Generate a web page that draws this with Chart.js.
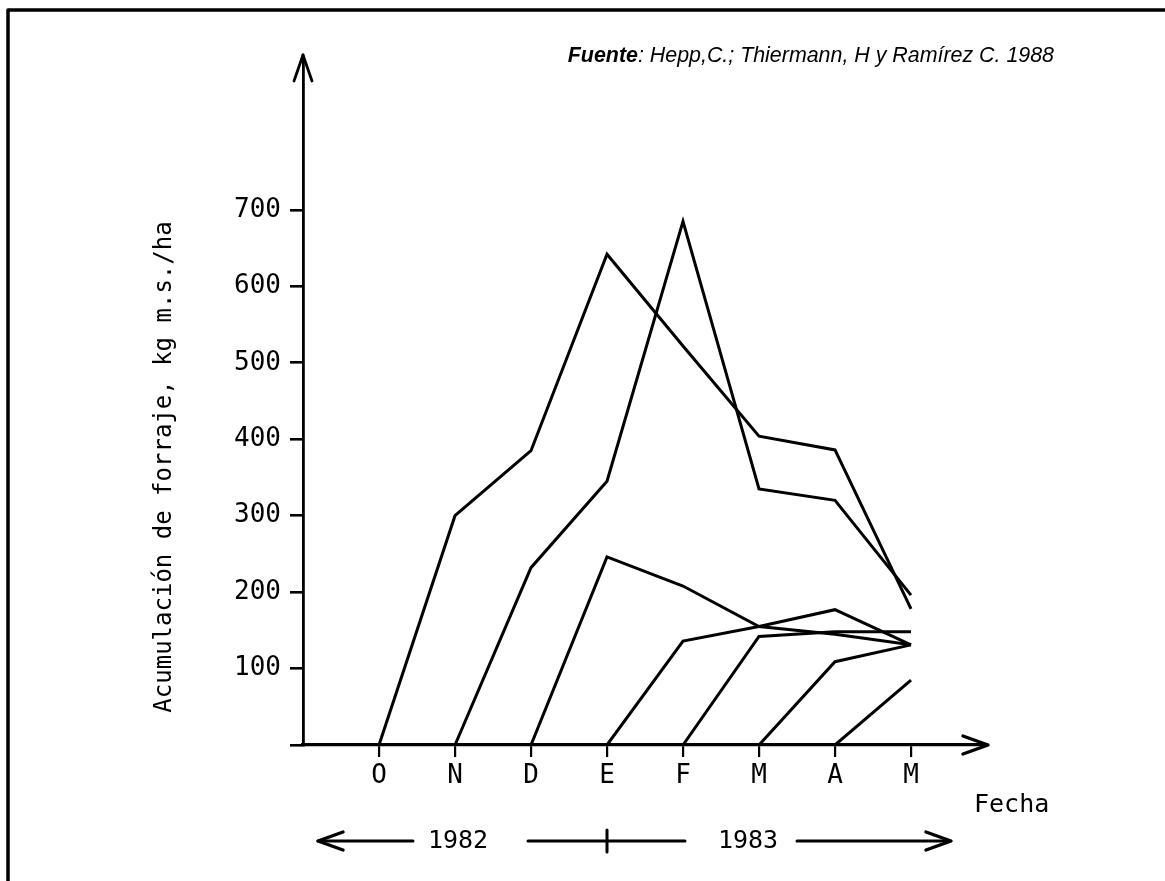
<!DOCTYPE html>
<html lang="es">
<head>
<meta charset="utf-8">
<title>Acumulación de forraje</title>
<script src="https://cdn.jsdelivr.net/npm/chart.js@4.4.1/dist/chart.umd.min.js"></script>
<style>
  html, body { margin: 0; padding: 0; background: #fff; }
  #wrap { width: 1165px; height: 881px; position: relative; }
  canvas { display: block; }
</style>
</head>
<body>
<div id="wrap"><canvas id="chart" width="1165" height="881"></canvas></div>
<script>
// Month labels on the x axis (Oct 1982 - May 1983)
const monthLabels = ['O', 'N', 'D', 'E', 'F', 'M', 'A', 'M'];

// Forage accumulation (kg m.s./ha) of each regrowth, from its start month onward
const desdeOct = [0, 300, 385, 642, 522, 404, 386, 178];
const desdeNov = [0, 232, 345, 685, 335, 320, 196];
const desdeDic = [0, 246, 208, 155, 145, 131];
const desdeEne = [0, 136, 155, 177, 131];
const desdeFeb = [0, 142, 148, 148];
const desdeMar = [0, 109, 131];
const desdeAbr = [0, 85];

// Start month of each series (1 = O ... 8 = M)
const series = [
  { label: 'Octubre',   start: 1, values: desdeOct },
  { label: 'Noviembre', start: 2, values: desdeNov },
  { label: 'Diciembre', start: 3, values: desdeDic },
  { label: 'Enero',     start: 4, values: desdeEne },
  { label: 'Febrero',   start: 5, values: desdeFeb },
  { label: 'Marzo',     start: 6, values: desdeMar },
  { label: 'Abril',     start: 7, values: desdeAbr }
];

const yTickMax = 700;
const yearLabels = ['1982', '1983'];
const sourceBold = 'Fuente';
const sourceRest = ': Hepp,C.; Thiermann, H y Ramírez C. 1988';
const yTitle = 'Acumulación de forraje, kg m.s./ha';
const xTitle = 'Fecha';

const MONO = '"DejaVu Sans Mono", monospace';
const INK = '#000';

const datasets = series.map(s => ({
  label: s.label,
  data: s.values.map((v, i) => ({ x: s.start + i, y: v })),
  borderColor: INK,
  borderWidth: 3,
  pointRadius: 0,
  tension: 0,
  fill: false
}));

function arrowHead(ctx, tx, ty, dx, dy, len, half) {
  // open "V" arrow head pointing along (dx, dy)
  const px = -dy, py = dx;
  ctx.beginPath();
  ctx.moveTo(tx - dx * len + px * half, ty - dy * len + py * half);
  ctx.lineTo(tx, ty);
  ctx.lineTo(tx - dx * len - px * half, ty - dy * len - py * half);
  ctx.stroke();
}

const decorations = {
  id: 'decorations',
  beforeDraw(chart) {
    const ctx = chart.ctx;
    ctx.save();
    ctx.fillStyle = '#fff';
    ctx.fillRect(0, 0, chart.width, chart.height);
    ctx.restore();
  },
  afterDraw(chart) {
    const ctx = chart.ctx;
    const area = chart.chartArea;
    const xs = chart.scales.x;
    ctx.save();
    ctx.strokeStyle = INK;
    ctx.fillStyle = INK;
    ctx.lineCap = 'round';
    ctx.lineJoin = 'round';

    // page frame (top and left edges)
    ctx.lineWidth = 3.5;
    ctx.beginPath();
    ctx.moveTo(8, chart.height);
    ctx.lineTo(8, 10);
    ctx.lineTo(chart.width, 10);
    ctx.stroke();

    // axis arrow heads
    ctx.lineWidth = 2.8;
    ctx.beginPath();
    ctx.moveTo(area.left, area.top);
    ctx.lineTo(area.left, area.top - 2);
    ctx.stroke();
    arrowHead(ctx, area.left, area.top - 2, 0, -1, 26, 9);
    ctx.lineWidth = 3.4;
    arrowHead(ctx, area.right + 1, area.bottom, 1, 0, 25, 9);

    // axis title (rotated)
    ctx.font = '24px ' + MONO;
    ctx.textAlign = 'center';
    ctx.textBaseline = 'middle';
    ctx.save();
    ctx.translate(165, 467);
    ctx.rotate(-Math.PI / 2);
    ctx.fillText(yTitle, 0, 0);
    ctx.restore();

    ctx.font = '25px ' + MONO;
    ctx.textAlign = 'left';
    ctx.fillText(xTitle, 974, 805);

    // year band under the axis
    const yy = 841;
    const split = xs.getPixelForValue(4);
    ctx.font = '25px ' + MONO;
    ctx.textAlign = 'center';
    ctx.fillText(yearLabels[0], 458, yy);
    ctx.fillText(yearLabels[1], 748, yy);
    ctx.lineWidth = 3;
    ctx.beginPath();
    ctx.moveTo(318, yy); ctx.lineTo(413, yy);
    ctx.moveTo(528, yy); ctx.lineTo(685, yy);
    ctx.moveTo(split, yy - 11); ctx.lineTo(split, yy + 11);
    ctx.moveTo(797, yy); ctx.lineTo(950, yy);
    ctx.stroke();
    ctx.lineWidth = 3.4;
    arrowHead(ctx, 318, yy, -1, 0, 25, 9);
    arrowHead(ctx, 951, yy, 1, 0, 25, 9);

    // source note
    const boldFont = 'italic bold 21.4px "Liberation Sans", Arial, sans-serif';
    const restFont = 'italic 21.4px "Liberation Sans", Arial, sans-serif';
    ctx.textAlign = 'left';
    ctx.textBaseline = 'alphabetic';
    ctx.font = restFont;
    const wRest = ctx.measureText(sourceRest).width;
    ctx.font = boldFont;
    const wBold = ctx.measureText(sourceBold).width;
    const endX = 1054;
    const startX = endX - wRest - wBold;
    ctx.fillText(sourceBold, startX, 62);
    ctx.font = restFont;
    ctx.fillText(sourceRest, startX + wBold, 62);

    ctx.restore();
  }
};

new Chart(document.getElementById('chart'), {
  type: 'line',
  data: { datasets },
  options: {
    responsive: false,
    animation: false,
    events: [],
    layout: { padding: { left: 0, top: 57, right: 178, bottom: 0 } },
    plugins: {
      legend: { display: false },
      tooltip: { enabled: false },
      title: { display: false }
    },
    scales: {
      x: {
        type: 'linear',
        min: 0,
        max: 9,
        afterFit(scale) { scale.height = 136; },
        ticks: {
          stepSize: 1,
          autoSkip: false,
          maxRotation: 0,
          padding: 4,
          color: INK,
          font: { family: MONO, size: 26 },
          callback: v => monthLabels[v - 1] || ''
        },
        grid: {
          drawOnChartArea: false,
          drawTicks: true,
          tickLength: 12,
          lineWidth: 2.2,
          color: c => (c.tick && c.tick.value >= 1 && c.tick.value <= monthLabels.length) ? INK : 'rgba(0,0,0,0)'
        },
        border: { display: true, color: INK, width: 3.2 }
      },
      y: {
        type: 'linear',
        min: 0,
        max: 900,
        afterFit(scale) { scale.width = 303; },
        ticks: {
          stepSize: 100,
          padding: 9,
          color: INK,
          font: { family: MONO, size: 26 },
          callback: v => (v > 0 && v <= yTickMax) ? String(v) : ''
        },
        grid: {
          drawOnChartArea: false,
          drawTicks: true,
          tickLength: 13,
          lineWidth: 2.6,
          color: c => (c.tick && c.tick.value <= yTickMax) ? INK : 'rgba(0,0,0,0)'
        },
        border: { display: true, color: INK, width: 2.8 }
      }
    }
  },
  plugins: [decorations]
});
</script>
</body>
</html>
